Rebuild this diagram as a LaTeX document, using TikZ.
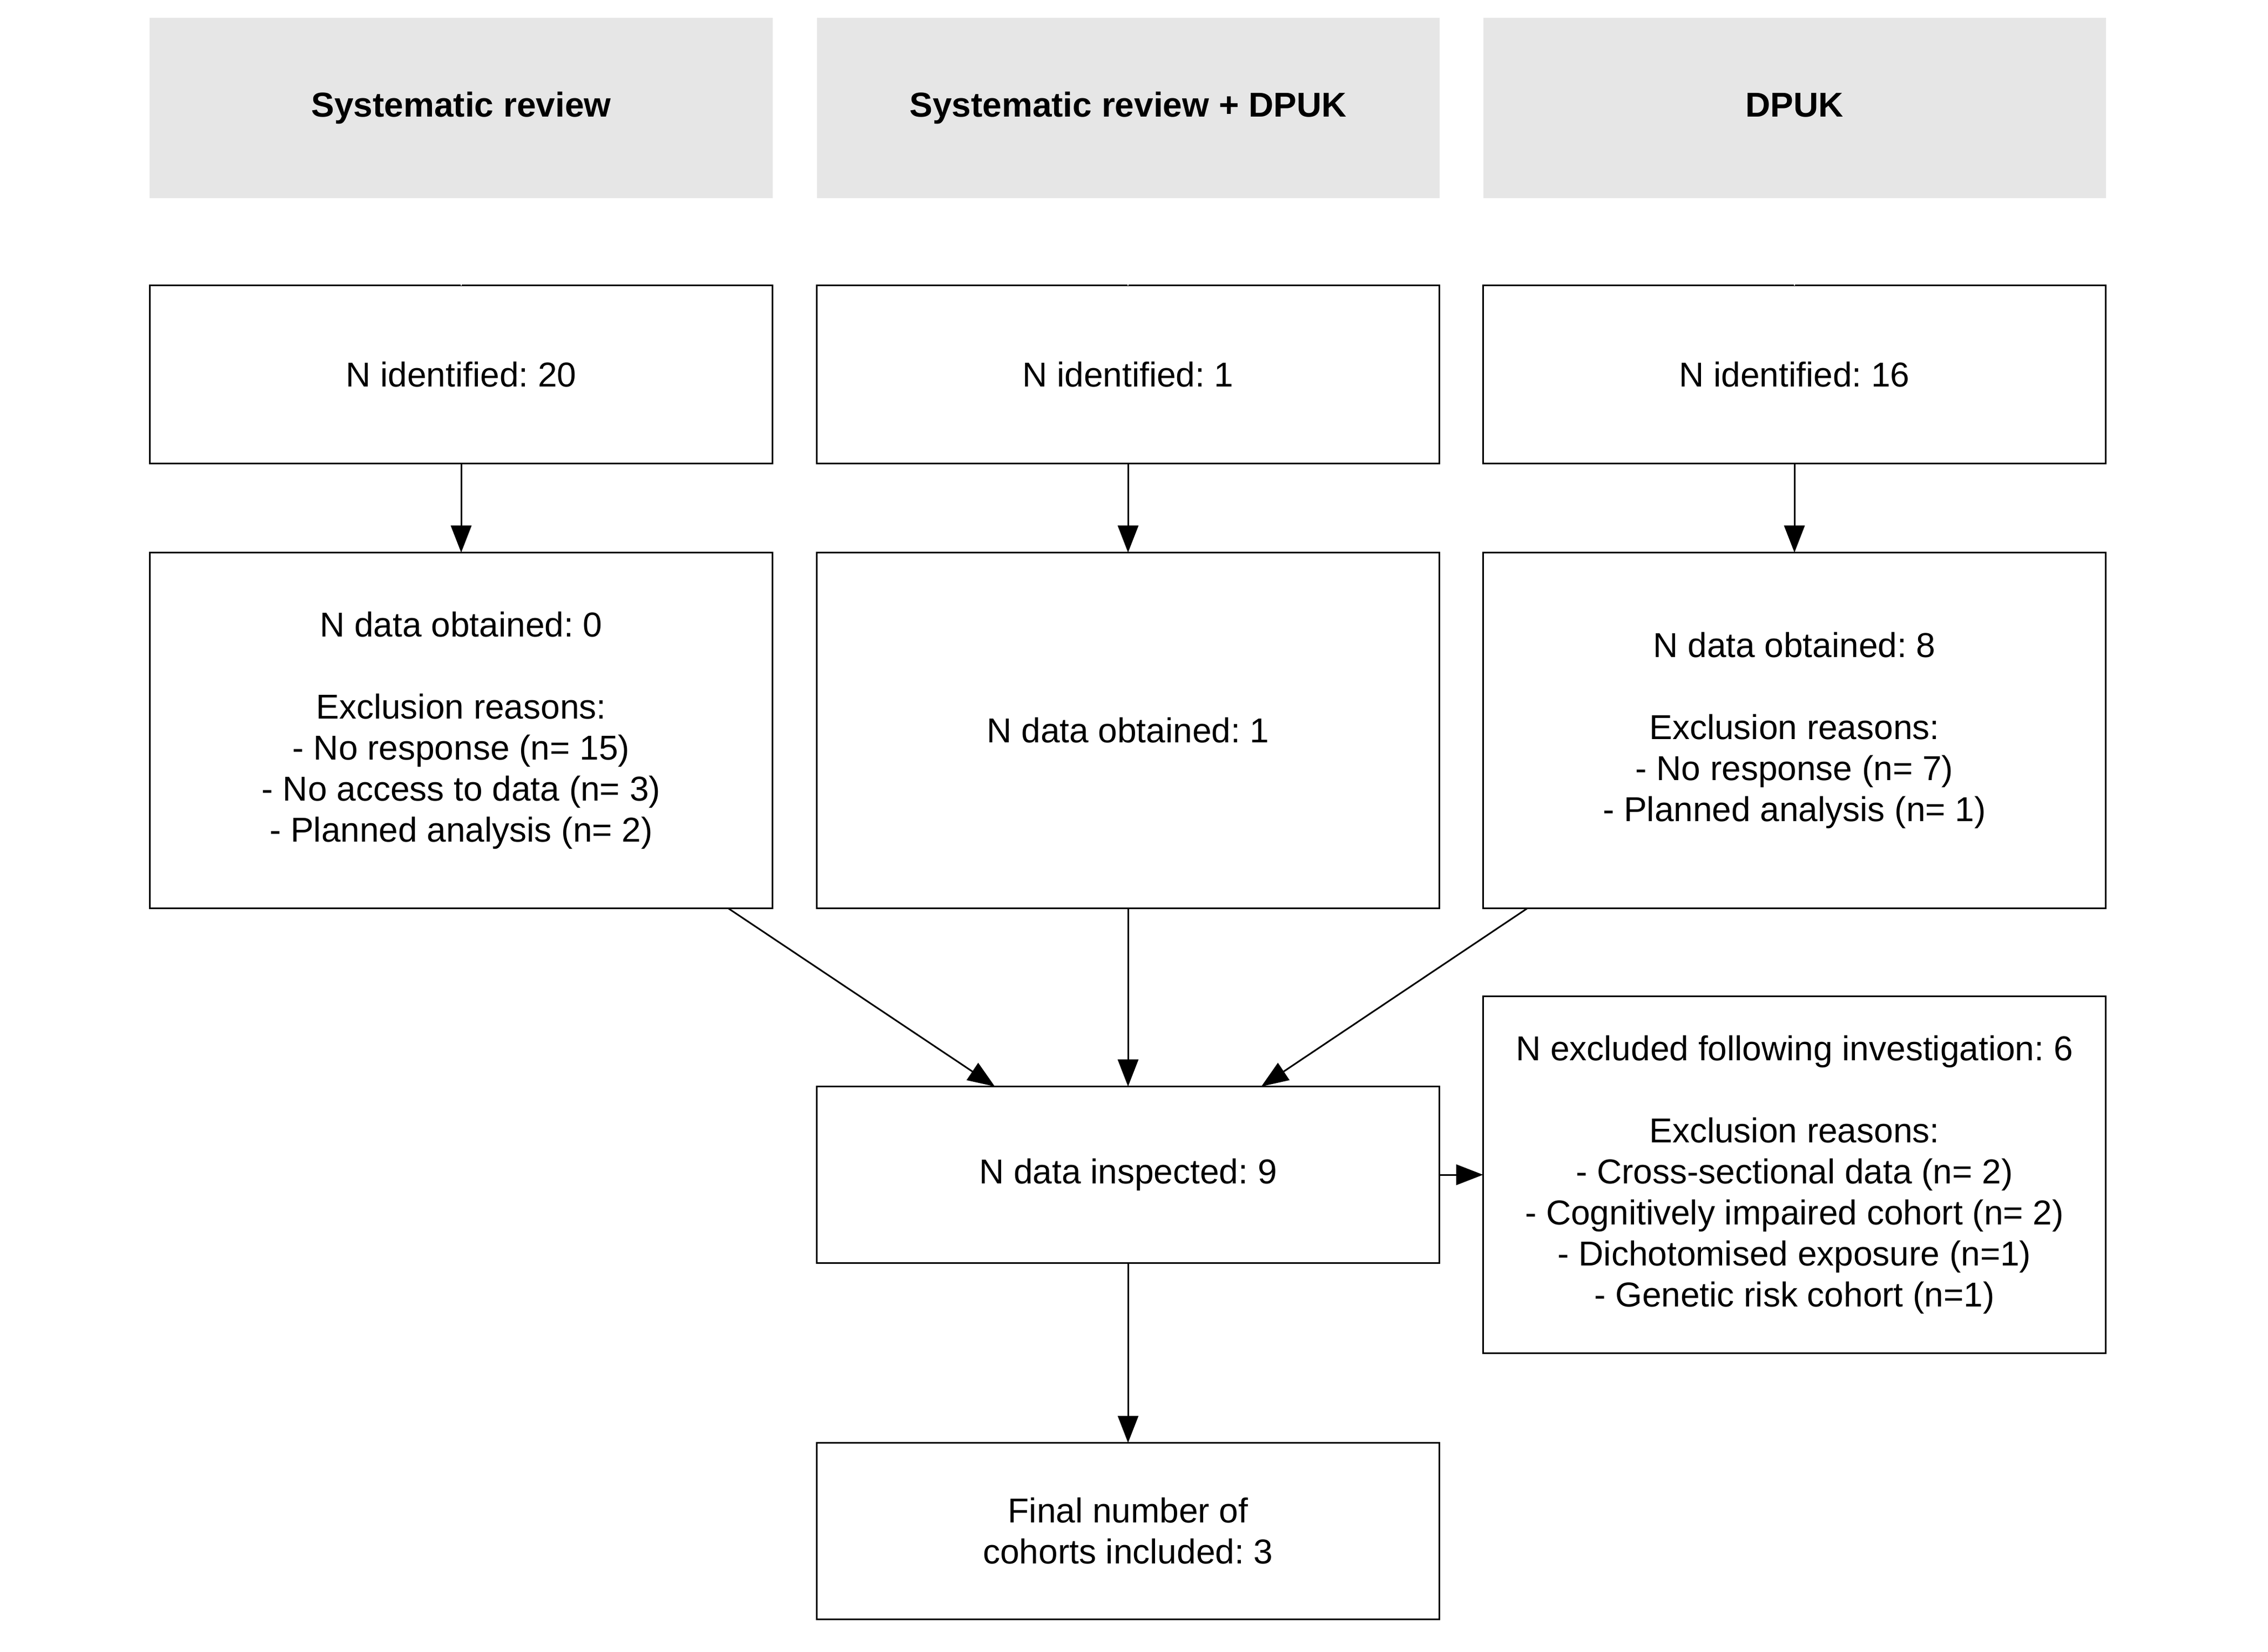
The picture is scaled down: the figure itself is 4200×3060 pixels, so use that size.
\documentclass[tikz,border=0pt]{standalone}
\usepackage{fontspec}
\setmainfont{Liberation Sans}
\usetikzlibrary{arrows.meta,calc}
\definecolor{hdrgray}{HTML}{E6E6E6}
\frenchspacing
\begin{document}
\begin{tikzpicture}[x=0.2pt,y=-0.2pt,
  txt/.style={font=\fontsize{12.8}{15.2}\selectfont},
  box/.style={txt, draw=black, line width=0.6pt, fill=white, minimum width=230.6pt,
    inner sep=0pt, outer sep=0pt, align=center},
  hdr/.style={fill=hdrgray, minimum width=230.6pt, minimum height=66.8pt,
    inner sep=0pt, outer sep=0pt, align=center, text height=9.2pt, text depth=2.7pt,
    font=\fontsize{12.8}{15.2}\selectfont\bfseries},
  arr/.style={line width=0.6pt, -{Triangle[length=10pt,width=7.6pt]}},
  notch/.style={draw=white, line width=0.5pt}]
\useasboundingbox[fill=white] (0,0) rectangle (4200,3060);

% headers
\node[hdr] (h1) at (854,200) {Systematic review};
\node[hdr] (h2) at (2089,200) {Systematic review + DPUK};
\node[hdr] (h3) at (3323,200) {DPUK};

% row 1
\node[box, minimum height=66pt] (a1) at (854,694) {N identified: 20};
\node[box, minimum height=66pt] (a2) at (2089,694) {N identified: 1};
\node[box, minimum height=66pt] (a3) at (3323,694) {N identified: 16};

% row 2
\node[box, minimum height=131.8pt] (b1) at (854,1353)
  {N data obtained: 0\\[15.2pt]Exclusion reasons:\\- No response (n= 15)\\- No access to data (n= 3)\\- Planned analysis (n= 2)};
\node[box, minimum height=131.8pt] (b2) at (2089,1353) {N data obtained: 1};
\node[box, minimum height=131.8pt] (b3) at (3323,1353)
  {N data obtained: 8\\[15.2pt]Exclusion reasons:\\- No response (n= 7)\\- Planned analysis (n= 1)};

% lower
\node[box, minimum height=65.4pt] (ins) at (2089,2176) {N data inspected: 9};
\node[box, minimum height=65.4pt] (fin) at (2089,2836) {Final number of\\cohorts included: 3};
\node[box, minimum height=132pt] (exc) at (3323,2176)
  {N excluded following investigation: 6\\[15.2pt]Exclusion reasons:\\- Cross-sectional data (n= 2)\\- Cognitively impaired cohort (n= 2)\\- Dichotomised exposure (n=1)\\- Genetic risk cohort (n=1)};

% faint white links header -> box
\draw[notch] (h1.south) -- (a1.north);
\draw[notch] (h2.south) -- (a2.north);
\draw[notch] (h3.south) -- (a3.north);

% arrows
\draw[arr] (a1) -- (b1);
\draw[arr] (a2) -- (b2);
\draw[arr] (a3) -- (b3);
\draw[arr] ($(b1.south west)!0.929!(b1.south east)$) -- ($(ins.north west)!0.286!(ins.north east)$);
\draw[arr] (b2) -- (ins);
\draw[arr] ($(b3.south west)!0.071!(b3.south east)$) -- ($(ins.north west)!0.714!(ins.north east)$);
\draw[arr] (ins.east) -- (exc.west);
\draw[arr] (ins) -- (fin);
\end{tikzpicture}
\end{document}
